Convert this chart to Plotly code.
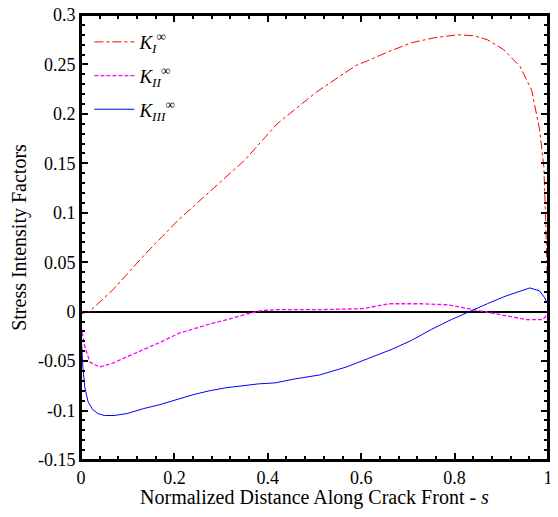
import plotly.graph_objects as go

# K_I (mode I)
s_I = [0.0, 0.018, 0.068, 0.139, 0.209, 0.279, 0.350, 0.420, 0.462, 0.504, 0.532, 0.589, 0.610,
       0.659, 0.708, 0.757, 0.807, 0.842, 0.870, 0.905, 0.940, 0.965, 0.982, 0.991, 0.995, 0.998, 1.0]
k_I = [-0.002, 0.0, 0.022, 0.059, 0.093, 0.123, 0.153, 0.190, 0.206, 0.222, 0.231, 0.249, 0.253,
       0.263, 0.272, 0.277, 0.280, 0.279, 0.275, 0.265, 0.248, 0.224, 0.184, 0.147, 0.093, 0.05, 0.005]

# K_II (mode II)
s_II = [0.0, 0.008, 0.019, 0.040, 0.068, 0.103, 0.139, 0.174, 0.209, 0.244, 0.279, 0.314, 0.350,
        0.385, 0.420, 0.504, 0.603, 0.659, 0.729, 0.785, 0.842, 0.884, 0.926, 0.954, 0.989, 1.0]
k_II = [-0.015, -0.035, -0.051, -0.056, -0.052, -0.045, -0.037, -0.030, -0.022, -0.017, -0.012, -0.008, -0.003,
        0.001, 0.002, 0.002, 0.003, 0.008, 0.008, 0.007, 0.002, -0.002, -0.006, -0.008, -0.008, -0.002]

# K_III (mode III)
s_III = [0.0, 0.004, 0.008, 0.015, 0.025, 0.036, 0.050, 0.071, 0.099, 0.134, 0.169, 0.205, 0.240,
         0.275, 0.310, 0.345, 0.380, 0.416, 0.458, 0.511, 0.568, 0.617, 0.666, 0.708, 0.750, 0.793,
         0.835, 0.870, 0.905, 0.940, 0.961, 0.982, 0.993, 1.0]
k_III = [-0.02, -0.056, -0.076, -0.091, -0.099, -0.103, -0.105, -0.105, -0.103, -0.098, -0.094, -0.089, -0.084,
         -0.080, -0.077, -0.075, -0.073, -0.072, -0.068, -0.064, -0.056, -0.047, -0.038, -0.029, -0.018, -0.008,
         0.001, 0.008, 0.015, 0.021, 0.024, 0.021, 0.014, 0.007]

x_tickvals = [0, 0.2, 0.4, 0.6, 0.8, 1]
x_ticktext = ["0", "0.2", "0.4", "0.6", "0.8", "1"]
y_tickvals = [-0.15, -0.1, -0.05, 0, 0.05, 0.1, 0.15, 0.2, 0.25, 0.3]
y_ticktext = ["-0.15", "-0.1", "-0.05", "0", "0.05", "0.1", "0.15", "0.2", "0.25", "0.3"]

names = ["<i>K</i><sub><i>I</i></sub><sup>∞</sup>",
         "<i>K</i><sub><i>II</i></sub><sup>∞</sup>",
         "<i>K</i><sub><i>III</i></sub><sup>∞</sup>"]

fig = go.Figure()
fig.add_trace(go.Scatter(x=s_I, y=k_I, mode="lines", name=names[0], legendgroup="g1",
                         line=dict(color="#ff0000", width=1, dash="dashdot")))
fig.add_trace(go.Scatter(x=s_II, y=k_II, mode="lines", name=names[1], legendgroup="g2",
                         line=dict(color="#ff00ff", width=1.3, dash="4px,2px")))
fig.add_trace(go.Scatter(x=s_III, y=k_III, mode="lines", name=names[2], legendgroup="g3",
                         line=dict(color="#0000ff", width=1)))

font = "Liberation Serif, Times New Roman, serif"
axis_common = dict(showline=True, linecolor="black", linewidth=2, mirror="ticks",
                   ticks="inside", ticklen=7, tickwidth=1.5, tickcolor="black",
                   showgrid=False, automargin=False, ticklabeloverflow="allow",
                   tickfont=dict(family=font, size=18, color="black"))

# the page body has an 8px margin; size the figure so nothing overflows the window
fig.update_layout(
    width=542, height=501,
    margin=dict(l=73, r=2, t=7, b=49),
    paper_bgcolor="white", plot_bgcolor="white",
    font=dict(family=font, color="black"),
    showlegend=True,
    legend=dict(x=0.018, y=0.982, xanchor="left", yanchor="top",
                bgcolor="rgba(0,0,0,0)", font=dict(family=font, size=19),
                tracegroupgap=6, itemwidth=40),
    xaxis=dict(range=[0, 1], tickvals=x_tickvals, ticktext=x_ticktext,
               minor=dict(dtick=0.04, ticklen=4, ticks="inside", tickcolor="black", tickwidth=1.5),
               zeroline=False,
               title=dict(text="Normalized Distance Along Crack Front - <i>s</i>",
                          font=dict(family=font, size=20), standoff=8),
               **axis_common),
    yaxis=dict(range=[-0.15, 0.3], tickvals=y_tickvals, ticktext=y_ticktext,
               minor=dict(dtick=0.01, ticklen=4, ticks="inside", tickcolor="black", tickwidth=1.5),
               zeroline=True, zerolinecolor="black", zerolinewidth=1.5,
               title=dict(text="Stress Intensity Factors", font=dict(family=font, size=20), standoff=6),
               **axis_common),
)

# plot frame drawn around the whole plotting area
fig.add_shape(type="rect", xref="paper", yref="paper", x0=0, x1=1, y0=0, y1=1,
              line=dict(color="black", width=2), layer="above")

fig.write_html("out.html")
